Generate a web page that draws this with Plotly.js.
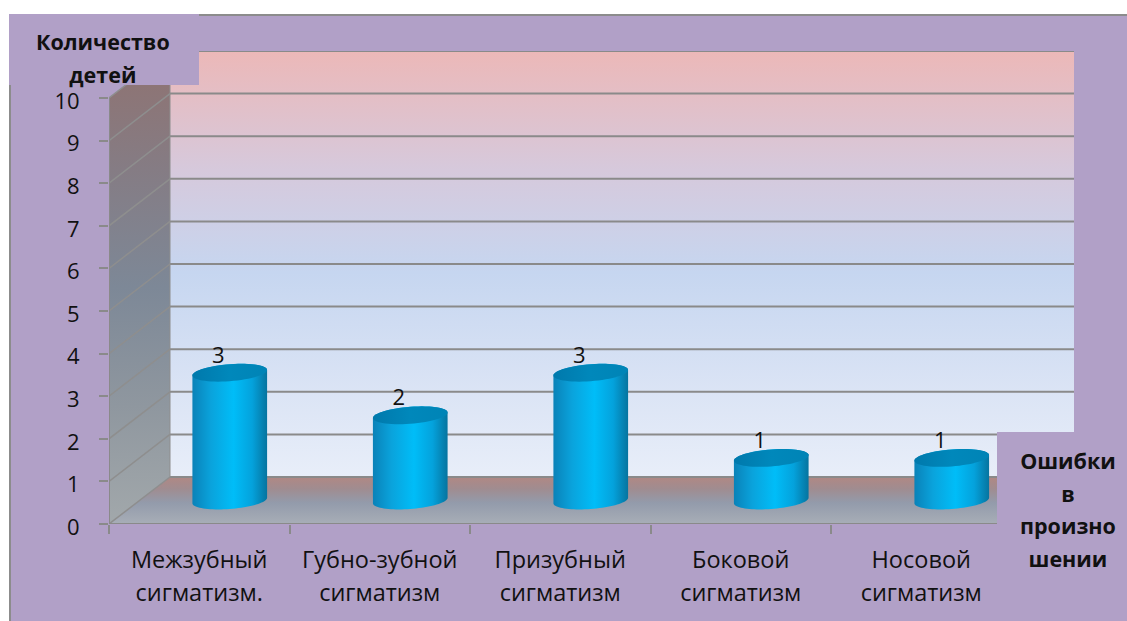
<!DOCTYPE html>
<html>
<head>
<meta charset="utf-8">
<script src="https://cdn.plot.ly/plotly-3.0.1.min.js"></script>
<style>html,body{margin:0;padding:0;background:#fff}#chart{width:1127px;height:621px}</style>
</head>
<body>
<div id="chart"></div>
<script>
// Speech-error counts per sigmatism type
const categories = [
  ["Межзубный", "сигматизм."],
  ["Губно-зубной", "сигматизм"],
  ["Призубный", "сигматизм"],
  ["Боковой", "сигматизм"],
  ["Носовой", "сигматизм"]
];
const childCounts = [3, 2, 3, 1, 1];
const valueTicks = [0, 1, 2, 3, 4, 5, 6, 7, 8, 9, 10];
const yAxisCaption = ["Количество", "детей"];
const xAxisCaption = ["Ошибки", "в", "произно", "шении"];

const W = 1127, H = 621;
const M = {l: 109, r: 53, t: 51, b: 97};
const plotW = W - M.l - M.r, plotH = H - M.t - M.b;
const xMin = -0.5, xMax = xMin + plotW / 180.5;
const yMax = plotH / 42.6;
const depthX = 61 / 180.5, depthY = yMax - 10;   // oblique projection of one unit of depth

const FONT = '"Open Sans", "Noto Sans", sans-serif';
const PURPLE = '#b1a0c7', GRID = '#8a8a8a', INK = '#111111';

// page pixels to paper coordinates, for the frame and caption boxes
const px = x => (x - M.l) / plotW;
const py = y => 1 - (y - M.t) / plotH;

const traces = [];
const poly = (x, y, colorscale, type) => traces.push({
  type: 'scatter', mode: 'none', x, y, fill: 'toself', hoverinfo: 'skip',
  fillgradient: {type, colorscale}
});
const seg = (x, y, color, width) => traces.push({
  type: 'scatter', mode: 'lines', x, y, hoverinfo: 'skip',
  line: {color: color || GRID, width: width || 2}
});

// back wall, side wall and floor of the 3D box
poly([xMin + depthX, xMax, xMax, xMin + depthX], [depthY, depthY, yMax, yMax],
  [[0, '#e8eef9'], [0.2, '#dbe4f5'], [0.48, '#c6d6f0'], [0.72, '#d6c9dc'], [1, '#ecb8b8']], 'vertical');
poly([xMin, xMin + depthX, xMin + depthX, xMin], [0, depthY, yMax, 10],
  [[0, '#a2a8ab'], [0.25, '#8f979f'], [0.5, '#7d8897'], [0.75, '#857c84'], [1, '#907270']], 'vertical');
poly([xMin, xMin + depthX, xMax, xMax - depthX], [0, depthY, depthY, 0],
  [[0, '#a8aeb7'], [0.45, '#939bab'], [0.75, '#a08c90'], [1, '#b08884']], 'vertical');

// wall grid
valueTicks.forEach(v => {
  seg([xMin + depthX, xMax], [v + depthY, v + depthY]);
  seg([xMin, xMin + depthX], [v, v + depthY], '#8e8e8e', 1.5);
});
seg([xMin, xMin], [0, 10]);
seg([xMin + depthX, xMin + depthX], [depthY, yMax], '#8e8e8e', 1);
seg([xMin, xMax - depthX], [0, 0]);

// cylinders: a sheared circle on the floor, lifted to the value
const rFront = 35.5 / 180.5, rSkew = 0.19;
const ring = (cx, v, a) => {
  const d = 0.5 + rSkew * Math.sin(a);
  return [cx + rFront * Math.cos(a) + depthX * d, v + depthY * d];
};
const tangent = Math.atan2(rSkew * depthX, rFront);
const arc = (cx, v, from, to, n) => {
  const pts = [];
  for (let i = 0; i <= n; i++) pts.push(ring(cx, v, from + (to - from) * i / n));
  return pts;
};
childCounts.forEach((v, i) => {
  const body = arc(i, 0, tangent + Math.PI, tangent + 2 * Math.PI, 40)
    .concat(arc(i, v, tangent, tangent + Math.PI, 40));
  poly(body.map(p => p[0]), body.map(p => p[1]),
    [[0, '#0a82b8'], [0.25, '#0aa3dc'], [0.55, '#00bdf8'], [0.8, '#04a2dc'], [1, '#06749f']], 'horizontal');
  const cap = arc(i, v, 0, 2 * Math.PI, 60);
  poly(cap.map(p => p[0]), cap.map(p => p[1]),
    [[0, '#0079ac'], [0.5, '#0088bb'], [1, '#0084b6']], 'horizontal');
});

// value labels
traces.push({
  type: 'scatter', mode: 'text', hoverinfo: 'skip',
  x: childCounts.map((v, i) => i + 0.105),
  y: childCounts.map(v => v + 0.92),
  text: childCounts.map(String),
  textposition: 'middle center',
  textfont: {family: FONT, size: 22, color: INK}
});

// line height comes from the outer font size, glyph size from the span
const lines = (arr, size) => arr.map(t => `<span style="font-size:${size}px">${t}</span>`).join('<br>');

const frameLine = {type: 'line', xref: 'paper', yref: 'paper', line: {color: '#8c8c8c', width: 2}};
const layout = {
  width: W, height: H, margin: M, showlegend: false,
  paper_bgcolor: '#ffffff', plot_bgcolor: 'rgba(0,0,0,0)',
  font: {family: FONT, color: INK},
  xaxis: {
    range: [xMin, xMax], showgrid: false, zeroline: false, showline: false,
    tickmode: 'array', tickvals: categories.map((c, i) => i),
    ticktext: categories.map(c => lines(c, 23.5)),
    ticks: '', tickfont: {family: FONT, size: 25, color: INK}, tickangle: 0,
    ticklabelstandoff: 18,
    minor: {tick0: -0.5, dtick: 1, ticks: 'outside', ticklen: 9, tickwidth: 2, tickcolor: GRID, showgrid: false}
  },
  yaxis: {
    range: [0, yMax], showgrid: false, zeroline: false, showline: false,
    tickmode: 'array', tickvals: valueTicks, ticktext: valueTicks.map(String),
    ticks: 'outside', ticklen: 9, tickwidth: 2, tickcolor: GRID,
    ticklabelstandoff: 15, ticklabelshift: 3, tickfont: {family: FONT, size: 22, color: INK}
  },
  shapes: [
    {type: 'rect', xref: 'paper', yref: 'paper', layer: 'below', x0: px(10), x1: px(W), y0: py(15), y1: py(H),
     fillcolor: PURPLE, line: {width: 0}},
    Object.assign({}, frameLine, {layer: 'below', x0: px(199), x1: px(W), y0: py(15), y1: py(15)}),
    Object.assign({}, frameLine, {layer: 'below', x0: px(10), x1: px(10), y0: py(85), y1: py(H)}),
    {type: 'rect', xref: 'paper', yref: 'paper', layer: 'above', x0: px(9), x1: px(199), y0: py(14), y1: py(85),
     fillcolor: PURPLE, line: {width: 0}},
    {type: 'rect', xref: 'paper', yref: 'paper', layer: 'above', x0: px(997), x1: px(W), y0: py(432), y1: py(H),
     fillcolor: PURPLE, line: {width: 0}}
  ],
  annotations: [
    {xref: 'paper', yref: 'paper', x: px(103), y: py(58), xanchor: 'center', yanchor: 'middle', showarrow: false,
     text: '<b>' + lines(yAxisCaption, 21.5) + '</b>', font: {family: FONT, size: 25, color: INK}},
    {xref: 'paper', yref: 'paper', x: px(1068), y: py(509), xanchor: 'center', yanchor: 'middle', showarrow: false,
     text: '<b>' + lines(xAxisCaption, 21.5) + '</b>', font: {family: FONT, size: 25, color: INK}}
  ]
};

Plotly.newPlot('chart', traces, layout, {displayModeBar: false, staticPlot: true});
</script>
</body>
</html>
